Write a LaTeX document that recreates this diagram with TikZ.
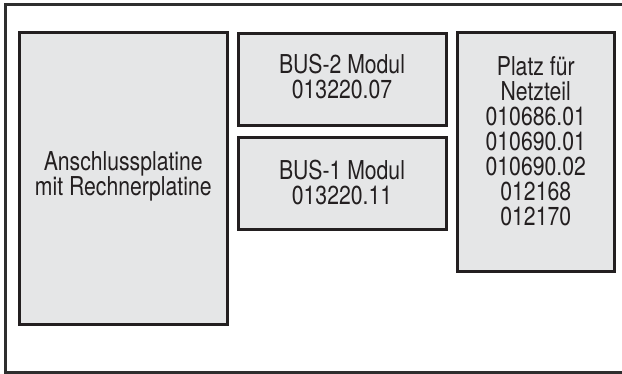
\documentclass[tikz,border=0pt]{standalone}
\usepackage{fontspec}
\setmainfont{TeX Gyre Heros}[FakeStretch=0.815]
\begin{document}
\begin{tikzpicture}[x=1pt,y=-1pt,
  box/.style={draw=boxline, fill=boxfill, line width=3pt, rectangle, inner sep=0pt},
  lbl/.style={align=center, inner sep=0pt, text=textcol, font=\fontsize{26}{25}\selectfont}]
\definecolor{boxline}{HTML}{231F20}
\definecolor{boxfill}{HTML}{E5E6E7}
\definecolor{textcol}{HTML}{231F20}
\definecolor{frame}{HTML}{2E2E2E}
\useasboundingbox (0,0) rectangle (622,374);
\draw[draw=frame, line width=2.5pt] (626,4.5) -- (5.5,4.5) -- (5.5,372.5) -- (626,372.5);
\node[box, minimum width=208.5pt, minimum height=292.5pt] (L) at (123.25,178.75) {};
\node[box, minimum width=208pt, minimum height=92.5pt] (B2) at (342,79.75) {};
\node[box, minimum width=208pt, minimum height=91.5pt] (B1) at (342,183.75) {};
\node[box, minimum width=157.5pt, minimum height=239.5pt] (N) at (535.75,152.25) {};
\node[lbl] (Lt) at (123.25,176) {Anschlussplatine\\mit Rechnerplatine};
\node[lbl] (B2t) at (342,76) {BUS-2 Modul\\013220.07};
\node[lbl] (B1t) at (342,182) {BUS-1 Modul\\013220.11};
\node[lbl] (Nt) at (535.75,141) {Platz für\\Netzteil\\010686.01\\010690.01\\010690.02\\012168\\012170};
\end{tikzpicture}
\end{document}
